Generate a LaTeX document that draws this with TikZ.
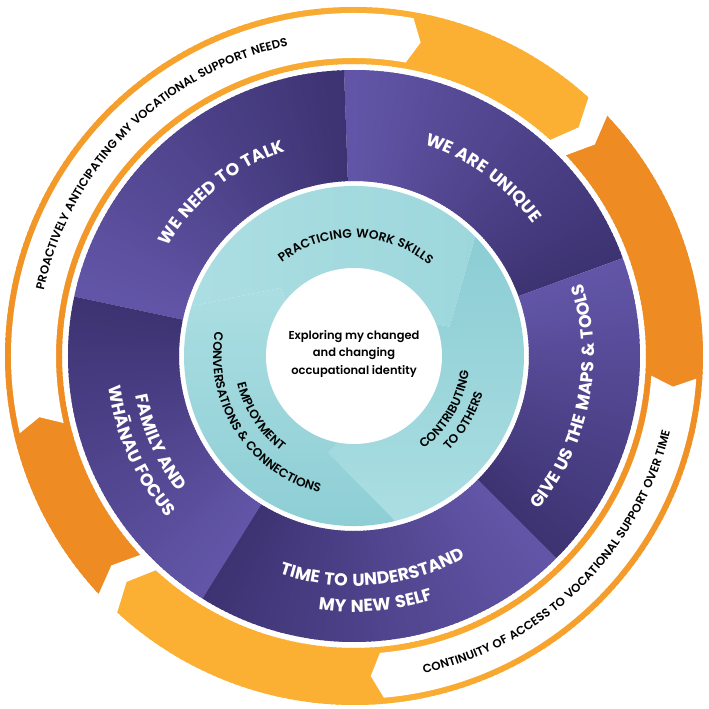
\documentclass[tikz,border=0pt]{standalone}
\usepackage{fontspec}
\setmainfont{Poppins}
\newfontfamily\popb{Poppins}[UprightFont=* SemiBold]
\newfontfamily\popbls{Poppins}[UprightFont=* SemiBold, LetterSpace=6]
\newfontfamily\popbb{Poppins}[UprightFont=* Bold, LetterSpace=8]
\usetikzlibrary{decorations.text}
\definecolor{bY}{HTML}{FBB034}
\definecolor{bD}{HTML}{EE8B22}
\definecolor{pL}{HTML}{6356A9}
\definecolor{pD}{HTML}{3D3372}
\definecolor{tL}{HTML}{ABDEE2}
\definecolor{tM}{HTML}{9DD7DC}
\definecolor{tD}{HTML}{8BCDD4}
\tikzset{
  wlabel/.style={decorate,decoration={text along path,text align=center,text color=white,
     text={|\popbb\fontsize{17.3}{17.3}\selectfont|#1}}},
  klabel/.style={decorate,decoration={text along path,text align=center,text color=black,
     text={|\popbls\fontsize{12.3}{12.3}\selectfont|#1}}},
  olabel/.style={decorate,decoration={text along path,text align=center,text color=black,
     text={|\popbls\fontsize{11.8}{11.8}\selectfont|#1}}},
}
\begin{document}
\begin{tikzpicture}
\useasboundingbox (-354pt,-353pt) rectangle (355pt,356pt);
\fill[white] (-354pt,-353pt) rectangle (355pt,356pt);
% outer band
\foreach \a in {0,...,359}{
  \pgfmathsetmacro\p{(\a<44)?0:((\a<80)?100:((\a<193)?(193-\a)/113*100:((\a<224)?0:((\a<275)?100:((\a<356)?(356-\a)/81*100:0)))))}
  \fill[bY!\p!bD] (\a:292pt) arc[start angle=\a,end angle=\a+1.5,radius=292pt] -- ({\a+1.5}:349pt) arc[start angle=\a+1.5,end angle=\a,radius=349pt] -- cycle;
}
% gaps
\fill[white] (48:352pt) -- (45.5:320.5pt) -- (48:289pt) -- (43.7:289pt) -- (41.3:320.5pt) -- (43.7:352pt) -- cycle;
\fill[white] (227.5:352pt) -- (224.8:320.5pt) -- (227.5:289pt) -- (223.2:289pt) -- (220.8:320.5pt) -- (223.2:352pt) -- cycle;
% hollow insets
\fill[white] (193:343pt) arc[start angle=193,end angle=80,radius=343pt] -- (78:320.5pt) -- (80:298pt) arc[start angle=80,end angle=193,radius=298pt] -- (191:320.5pt) -- cycle;
\fill[white] (-3.8:343pt) arc[start angle=-3.8,end angle=-85,radius=343pt] -- (-87:320.5pt) -- (-85:298pt) arc[start angle=-85,end angle=-3.8,radius=298pt] -- (-5.5:320.5pt) -- cycle;
% purple ring
\foreach \s/\e in {20/92,92/168,168/238,238/315,315/380}{
  \foreach \a in {\s,...,\e}{
    \pgfmathsetmacro\p{(\a-\s)/(\e-\s)*100}
    \pgfmathsetmacro\b{min(\a+1.5,\e)}
    \fill[pL!\p!pD] (\a:175pt) arc[start angle=\a,end angle=\b,radius=175pt] -- (\b:286pt) arc[start angle=\b,end angle=\a,radius=286pt] -- cycle;
  }
}
% teal ring
\shade[left color=tL, right color=tM] (163:170pt) arc[start angle=163,end angle=44.5,radius=170pt] -- (17:100pt) -- (25:80pt) arc[start angle=25,end angle=145,radius=80pt] -- (137:100pt) -- cycle;
\shade[top color=tD, bottom color=tL] (44.5:170pt) arc[start angle=44.5,end angle=-76,radius=170pt] -- (-105:100pt) -- (-97:80pt) arc[start angle=-97,end angle=25,radius=80pt] -- (17:100pt) -- cycle;
\shade[top color=tL, bottom color=tD] (284:170pt) arc[start angle=284,end angle=163,radius=170pt] -- (137:100pt) -- (145:80pt) arc[start angle=145,end angle=263,radius=80pt] -- (255:100pt) -- cycle;
\fill[white] (0,0) circle[radius=88pt];
% centre text
\node[align=center,font=\popb\fontsize{11.5}{17.5}\selectfont] (core) at (0pt,2pt) {Exploring my changed\\and changing\\occupational identity};
% purple labels
\path[wlabel={WE NEED TO TALK}] (200:216pt) arc[start angle=200,end angle=58,radius=216pt];
\path[wlabel={WE ARE UNIQUE}] (125:223pt) arc[start angle=125,end angle=-17,radius=223pt];
\path[wlabel={GIVE US THE MAPS {\&} TOOLS}] (-86:240pt) arc[start angle=-86,end angle=64,radius=240pt];
\path[wlabel={TIME TO UNDERSTAND}] (205:230pt) arc[start angle=205,end angle=345,radius=230pt];
\path[wlabel={MY NEW SELF}] (205:256pt) arc[start angle=205,end angle=345,radius=256pt];
\path[wlabel={FAMILY AND}] (140:222pt) arc[start angle=140,end angle=268,radius=222pt];
\path[wlabel={WHĀNAU FOCUS}] (140:247pt) arc[start angle=140,end angle=268,radius=247pt];
% teal labels
\path[klabel={PRACTICING WORK SKILLS}] (170:118pt) arc[start angle=170,end angle=8,radius=118pt];
\path[klabel={CONTRIBUTING}] (-100:116pt) arc[start angle=-100,end angle=39,radius=116pt];
\path[klabel={TO OTHERS}] (-100:134pt) arc[start angle=-100,end angle=39,radius=134pt];
\path[klabel={EMPLOYMENT}] (140:120pt) arc[start angle=140,end angle=286,radius=120pt];
\path[klabel={CONVERSATIONS {\&} CONNECTIONS}] (140:141pt) arc[start angle=140,end angle=286,radius=141pt];
% band labels
\path[olabel={PROACTIVELY ANTICIPATING MY VOCATIONAL SUPPORT NEEDS}] (215:317pt) arc[start angle=215,end angle=55,radius=317pt];
\path[olabel={CONTINUITY OF ACCESS TO VOCATIONAL SUPPORT OVER TIME}] (-125:325pt) arc[start angle=-125,end angle=34,radius=325pt];
\end{tikzpicture}
\end{document}
